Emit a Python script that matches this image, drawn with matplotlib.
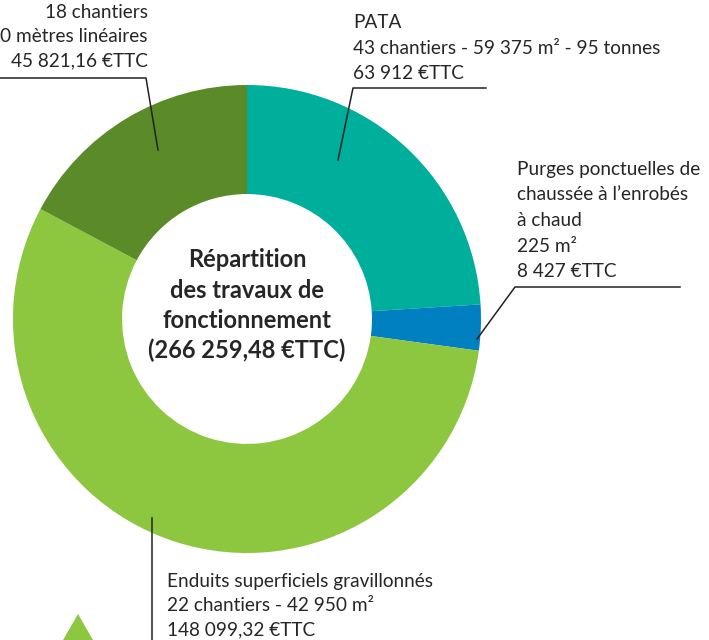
import matplotlib
matplotlib.use('Agg')
import matplotlib.pyplot as plt
from matplotlib.patches import Polygon

plt.rcParams.update({'font.family': ['Lato', 'DejaVu Sans']})

W, H = 709, 640

categories = ['PATA', 'Purges ponctuelles', 'Enduits superficiels', 'Autres chantiers']
values = [63912, 8427, 148099.32, 45821.16]
colors = ['#00ae9c', '#0080c0', '#8dc63f', '#5b8a29']

title_lines = ['Répartition', 'des travaux de', 'fonctionnement', '(266 259,48 €TTC)']
lbl_dark = ['18 chantiers', '0 mètres linéaires', '45 821,16 €TTC']
lbl_pata = ['PATA', '43 chantiers - 59 375 m² - 95 tonnes', '63 912 €TTC']
lbl_purges = ['Purges ponctuelles de', 'chaussée à l\u2019enrobés', 'à chaud', '225 m²', '8 427 €TTC']
lbl_enduits = ['Enduits superficiels gravillonnés', '22 chantiers - 42 950 m²', '148 099,32 €TTC']

fig = plt.figure(figsize=(W / 100, H / 100), dpi=100)
ax = fig.add_axes([0, 0, 1, 1])

def Y(y):
    return H - y

cx, cy, r = 247, 319, 234
ax.pie(values, colors=colors, startangle=90, counterclock=False,
       center=(cx, Y(cy)), radius=r, frame=True,
       wedgeprops=dict(width=r * 0.466, linewidth=0))
ax.set_xlim(0, W)
ax.set_ylim(0, H)
ax.set_aspect('equal')
ax.axis('off')

# centre title
for i, t in enumerate(title_lines):
    ax.text(cx, Y(267 + i * 30.5), t, ha='center', va='baseline',
            fontsize=17, fontweight='bold', color='#262626')

def block(lines, x, y0, ha='left', step=25.5):
    for i, t in enumerate(lines):
        ax.text(x, Y(y0 + i * step), t, ha=ha, va='baseline',
                fontsize=13.7, color='#262626')

block(lbl_dark, 148, 18, ha='right', step=24)
block(lbl_pata, 353, 28)
block(lbl_purges, 517, 175)
block(lbl_enduits, 167, 587, step=24)

lk = dict(color='#222222', lw=1.1)
ax.plot([0, 146, 158], [Y(78), Y(78), Y(150)], **lk)
ax.plot([486, 353, 338], [Y(88), Y(88), Y(160)], **lk)
ax.plot([680, 515, 477], [Y(287), Y(287), Y(339)], **lk)
ax.plot([151.5, 151.5], [Y(518), Y(642)], **lk)

# decorative triangle bottom-left
ax.add_patch(Polygon([(78, Y(614)), (55, Y(654)), (101, Y(654))],
                     closed=True, color='#8dc63f', lw=0))

fig.savefig('out.png', dpi=100)
